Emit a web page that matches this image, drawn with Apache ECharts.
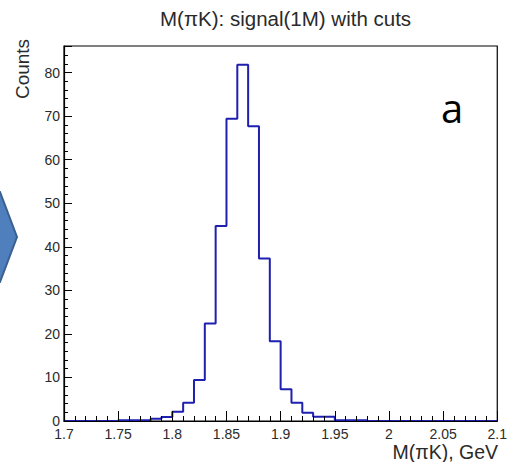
<!DOCTYPE html>
<html>
<head>
<meta charset="utf-8">
<script src="https://cdn.jsdelivr.net/npm/echarts@6/dist/echarts.min.js"></script>
<style>html,body{margin:0;padding:0;background:#fff;}#c{width:510px;height:462px;}</style>
</head>
<body>
<div id="c"></div>
<script>
// Bin lower edges (width 0.01 GeV) and counts
const binEdges = [1.70,1.71,1.72,1.73,1.74,1.75,1.76,1.77,1.78,1.79,
                  1.80,1.81,1.82,1.83,1.84,1.85,1.86,1.87,1.88,1.89,
                  1.90,1.91,1.92,1.93,1.94,1.95,1.96,1.97,1.98,1.99,
                  2.00,2.01,2.02,2.03,2.04,2.05,2.06,2.07,2.08,2.09];
const counts   = [0,0,0,0,0,0.2,0.2,0.2,0.5,0.9,
                  2.1,4.2,9.4,22.4,44.8,69.4,81.8,67.7,37.3,18.3,
                  7.3,4.2,1.9,1.0,1.0,0.2,0.2,0.2,0,0,
                  0,0,0,0,0,0,0,0,0,0];
const xRange = [1.7, 2.1];
const yMax = 86.1;
const titleText = 'M(\u03c0K): signal(1M) with cuts';
const xTitle = 'M(\u03c0K), GeV';
const yTitle = 'Counts';

const stepData = binEdges.map((e, i) => [e, counts[i]]);
stepData.push([xRange[1], counts[counts.length - 1]]);

const chart = echarts.init(document.getElementById('c'), null, {renderer: 'svg'});
const labelFont = {fontFamily: 'Liberation Sans, Arial, sans-serif', fontSize: 14, color: '#2a2a2a'};
chart.setOption({
  animation: false,
  backgroundColor: '#fff',
  title: {
    text: titleText, left: 155, top: 3,
    textStyle: {fontFamily: 'Liberation Sans, Arial, sans-serif', fontSize: 20.5, fontWeight: 'normal', color: '#2a2a2a'}
  },
  grid: {left: 64, right: 10, top: 46, bottom: 41, show: true, borderColor: '#000', borderWidth: 1.2, backgroundColor: 'transparent'},
  xAxis: {
    type: 'value', min: xRange[0], max: xRange[1], interval: 0.05, z: 10,
    axisLine: {show: true, onZero: false, lineStyle: {color: '#000', width: 1.2}},
    axisTick: {show: true, inside: true, length: 10, lineStyle: {color: '#000', width: 1}},
    minorTick: {show: true, splitNumber: 5, length: 5, lineStyle: {color: '#000', width: 1}},
    splitLine: {show: false},
    axisLabel: Object.assign({margin: 7, lineHeight: 12}, labelFont)
  },
  yAxis: {
    type: 'value', min: 0, max: yMax, interval: 10, z: 10,
    axisLine: {show: true, lineStyle: {color: '#000', width: 1.2}},
    axisTick: {show: true, inside: true, length: 8, lineStyle: {color: '#000', width: 1}},
    minorTick: {show: true, splitNumber: 5, length: 4, lineStyle: {color: '#000', width: 1}},
    splitLine: {show: false},
    axisLabel: Object.assign({margin: 4, lineHeight: 11, formatter: v => (Math.abs(v % 10) < 1e-9 ? String(v) : '')}, labelFont)
  },
  series: [{
    type: 'line', step: 'end', data: stepData, symbol: 'none',
    lineStyle: {color: '#1f1fb0', width: 2}, z: 2
  }],
  graphic: [
    {type: 'polygon', z: 100,
     shape: {points: [[-20,192],[0,192],[17,237],[0,282],[-20,282]]},
     style: {fill: '#4f7fbd', stroke: '#3a6090', lineWidth: 2}},
    {type: 'text', z: 100, x: 22, y: 69, rotation: Math.PI/2,
     style: {text: yTitle, font: '19px "Liberation Sans", Arial, sans-serif', fill: '#2a2a2a', textAlign: 'center', textVerticalAlign: 'middle'}},
    {type: 'text', z: 100, x: 498, y: 452,
     style: {text: xTitle, font: '19.5px "Liberation Sans", Arial, sans-serif', fill: '#2a2a2a', textAlign: 'right', textVerticalAlign: 'middle'}},
    {type: 'text', z: 100, x: 452, y: 107,
     style: {text: 'a', font: '40px "Open Sans", "Noto Sans", sans-serif', fill: '#000', textAlign: 'center', textVerticalAlign: 'middle'}}
  ]
});
</script>
</body>
</html>
